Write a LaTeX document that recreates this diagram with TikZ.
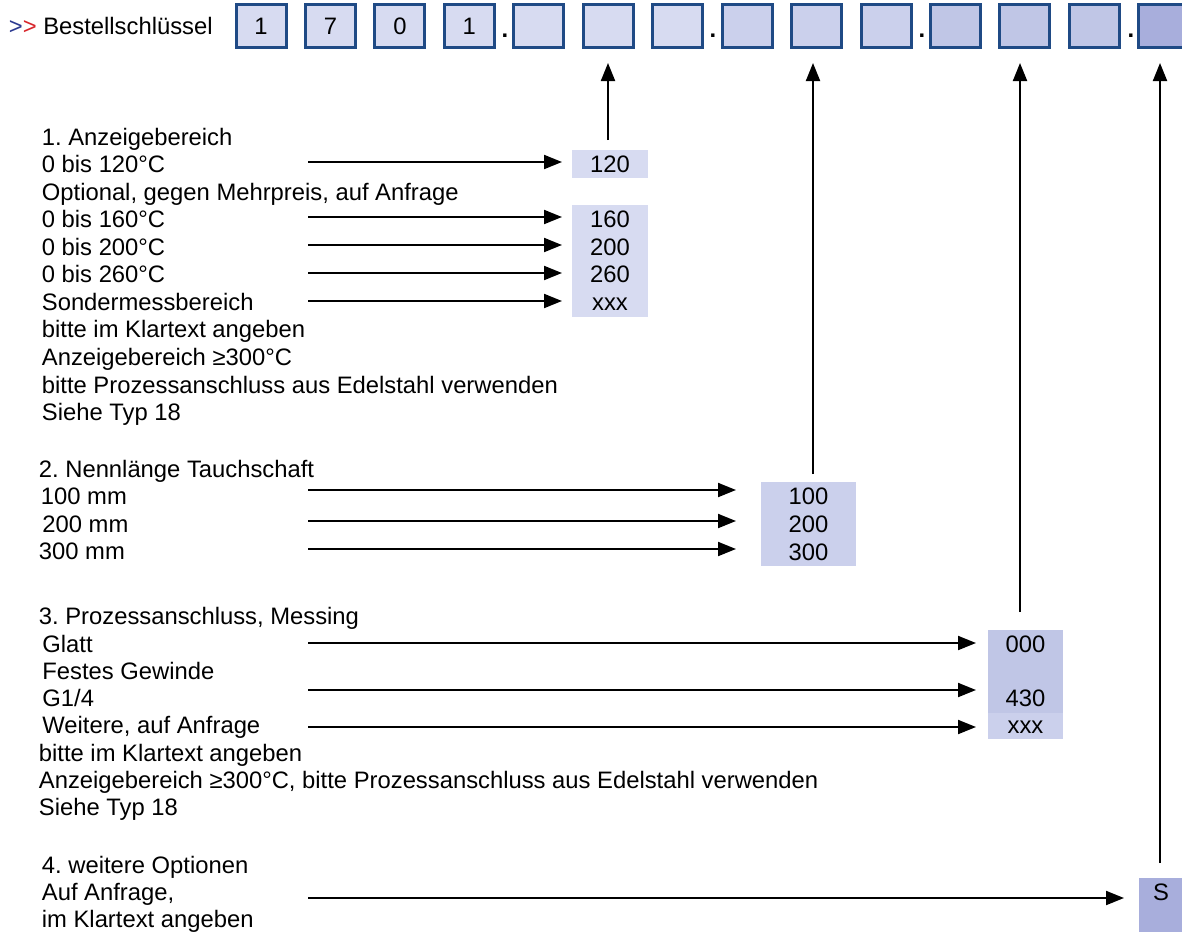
\documentclass[tikz,border=0pt]{standalone}
\usepackage{fontspec}
\setmainfont{Liberation Sans}
\usetikzlibrary{arrows.meta}
\definecolor{codeA}{HTML}{D7DBF1}
\definecolor{codeB}{HTML}{CBD0EC}
\definecolor{codeC}{HTML}{C0C6E6}
\definecolor{codeD}{HTML}{A8AEDC}
\definecolor{rim}{HTML}{1F4A85}
\definecolor{gtblue}{HTML}{2B3990}
\definecolor{gtred}{HTML}{D7262C}
\begin{document}
\frenchspacing
\begin{tikzpicture}[x=0.5pt,y=-0.5pt,
  txt/.style={font=\fontsize{11.9pt}{14pt}\selectfont, inner sep=0pt, anchor=base west},
  lbl/.style={font=\fontsize{11.9pt}{14pt}\selectfont, inner sep=0pt, anchor=base},
  codebox/.style={draw=rim, line width=1.5pt, minimum width=25pt, minimum height=21.5pt, inner sep=0pt, font=\fontsize{11.9pt}{14pt}\selectfont},
  sep/.style={font=\fontsize{11.9pt}{14pt}\selectfont\bfseries, inner sep=0pt, anchor=base},
  valbox/.style={inner sep=0pt, outer sep=0pt, anchor=north west},
  arr/.style={line width=1pt, -{Triangle[length=9pt,width=7pt]}}]
\useasboundingbox (0,0) rectangle (1182,932);

% ---------- header ----------
\node[txt] (title) at (8.5,34) {{\color{gtblue}>}{\color{gtred}>} Bestellschlüssel};
\foreach \x/\c/\t [count=\n] in {261/codeA/1, 330.45/codeA/7, 399.9/codeA/0, 469.35/codeA/1,
  538.8/codeA/{}, 608.25/codeA/{}, 677.7/codeA/{}, 747.15/codeB/{}, 816.6/codeB/{}, 886.05/codeB/{},
  955.5/codeC/{}, 1024.95/codeC/{}, 1094.4/codeC/{}, 1163.85/codeD/{}}
  \node[codebox, fill=\c] (k\n) at (\x,26) {\t};
\node[sep] (d1) at (505,37) {.};
\node[sep] (d2) at (713,37) {.};
\node[sep] (d3) at (922,37) {.};
\node[sep] (d4) at (1131,37) {.};

% ---------- value boxes ----------
\node[valbox, fill=codeA, minimum width=38pt, minimum height=14pt] (b120) at (572,150) {};
\node[valbox, fill=codeA, minimum width=38pt, minimum height=56pt] (b160) at (572,205) {};
\node[valbox, fill=codeB, minimum width=47.5pt, minimum height=42pt] (b100) at (761,482) {};
\node[valbox, fill=codeC, minimum width=37.5pt, minimum height=41.5pt] (b000) at (988,630) {};
\node[valbox, fill=codeB, minimum width=37.5pt, minimum height=13pt] (bxxx) at (988,713) {};
\node[valbox, fill=codeD, minimum width=22pt, minimum height=27pt] (bS) at (1139,878) {};

\node[lbl] (l120) at (610,172.6) {120};
\node[lbl] (l160) at (610,227.7) {160};
\node[lbl] (l200) at (610,255.2) {200};
\node[lbl] (l260) at (610,282.8) {260};
\node[lbl] (lx1) at (610,310.3) {xxx};
\node[lbl] (l100) at (808.5,504.5) {100};
\node[lbl] (l2b) at (808.5,532) {200};
\node[lbl] (l300) at (808.5,560) {300};
\node[lbl] (l000) at (1025.5,652) {000};
\node[lbl] (l430) at (1025.5,706) {430};
\node[lbl] (lx3) at (1025.5,733) {xxx};
\node[lbl] (lS) at (1161,900) {S};

% ---------- section 1 ----------
\node[txt] (s1h) at (41.5,145) {1. Anzeigebereich};
\node[txt] (s1a) at (41.5,172.6) {0 bis 120°C};
\node[txt] (s1b) at (41.5,200.1) {Optional, gegen Mehrpreis, auf Anfrage};
\node[txt] (s1c) at (41.5,227.7) {0 bis 160°C};
\node[txt] (s1d) at (41.5,255.2) {0 bis 200°C};
\node[txt] (s1e) at (41.5,282.8) {0 bis 260°C};
\node[txt] (s1f) at (41.5,310.3) {Sondermessbereich};
\node[txt] (s1g) at (41.5,337.9) {bitte im Klartext angeben};
\node[txt] (s1i) at (41.5,365.4) {Anzeigebereich ≥300°C};
\node[txt] (s1j) at (41.5,393) {bitte Prozessanschluss aus Edelstahl verwenden};
\node[txt] (s1k) at (41.5,420.5) {Siehe Typ 18};

% ---------- section 2 ----------
\node[txt] (s2h) at (38.5,477) {2. Nennlänge Tauchschaft};
\node[txt] (s2a) at (40.5,504.5) {100 mm};
\node[txt] (s2b) at (42,532) {200 mm};
\node[txt] (s2c) at (38.5,559.5) {300 mm};

% ---------- section 3 ----------
\node[txt] (s3h) at (38.5,624) {3. Prozessanschluss, Messing};
\node[txt] (s3a) at (42,652) {Glatt};
\node[txt] (s3b) at (42,679) {Festes Gewinde};
\node[txt] (s3c) at (42,706.5) {G1/4};
\node[txt] (s3d) at (42,733) {Weitere, auf Anfrage};
\node[txt] (s3e) at (38.5,761) {bitte im Klartext angeben};
\node[txt] (s3f) at (38.5,788) {Anzeigebereich ≥300°C, bitte Prozessanschluss aus Edelstahl verwenden};
\node[txt] (s3g) at (38.5,815) {Siehe Typ 18};

% ---------- section 4 ----------
\node[txt] (s4h) at (41.5,873) {4. weitere Optionen};
\node[txt] (s4a) at (41.5,900) {Auf Anfrage,};
\node[txt] (s4b) at (41.5,927) {im Klartext angeben};

% ---------- connector end points ----------
\foreach \n/\y in {a/162, b/217, c/245, d/273, e/301} {
  \coordinate (h1\n s) at (308,\y);
  \coordinate (h1\n e) at (562,\y);
}
\foreach \n/\y in {a/490, b/521, c/549} {
  \coordinate (h2\n s) at (308,\y);
  \coordinate (h2\n e) at (736,\y);
}
\foreach \n/\y in {a/643, b/690, c/727} {
  \coordinate (h3\n s) at (308,\y);
  \coordinate (h3\n e) at (976,\y);
}
\coordinate (h4as) at (308,898);
\coordinate (h4ae) at (1124,898);

\coordinate (v1s) at (608,140);   \coordinate (v1e) at (608,63);
\coordinate (v2s) at (813,474);   \coordinate (v2e) at (813,63);
\coordinate (v3s) at (1020,612);  \coordinate (v3e) at (1020,63);
\coordinate (v4s) at (1160,863);  \coordinate (v4e) at (1160,63);

% ---------- connectors ----------
\foreach \n in {a,b,c,d,e} \draw[arr] (h1\n s) -- (h1\n e);
\foreach \n in {a,b,c} \draw[arr] (h2\n s) -- (h2\n e);
\foreach \n in {a,b,c} \draw[arr] (h3\n s) -- (h3\n e);
\draw[arr] (h4as) -- (h4ae);
\foreach \n in {1,2,3,4} \draw[arr] (v\n s) -- (v\n e);
\end{tikzpicture}
\end{document}
